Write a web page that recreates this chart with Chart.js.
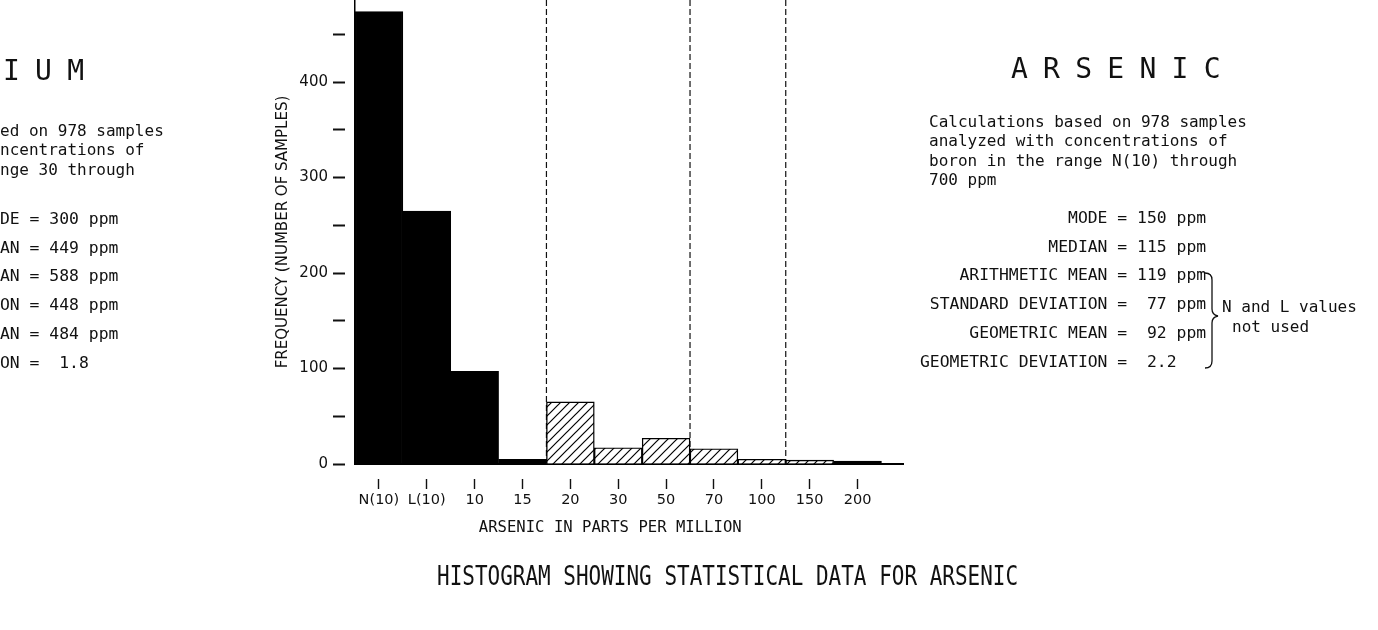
<!DOCTYPE html>
<html>
<head>
<meta charset="utf-8">
<script src="https://cdn.jsdelivr.net/npm/chart.js@4.4.1/dist/chart.umd.min.js"></script>
<style>
  html, body { margin: 0; padding: 0; background: #fff; }
  #wrap { position: relative; width: 1378px; height: 630px; overflow: hidden; background: #fff; }
  #chart { position: absolute; left: 0; top: 0; }
  .t { position: absolute; font-family: "DejaVu Sans Mono", monospace; color: #111; white-space: pre; line-height: 1; }
  .head { font-size: 28px; letter-spacing: -0.8px; }
  .para { font-size: 16px; line-height: 19.3px; }
  .stats { font-size: 16.4px; line-height: 28.7px; }
  .note { font-size: 16px; line-height: 20px; }
  .title { font-size: 26px; transform-origin: 0 50%; transform: scaleX(0.807); }
  svg { position: absolute; left: 0; top: 0; }
</style>
</head>
<body>
<div id="wrap">
  <canvas id="chart" width="1378" height="630"></canvas>

  <!-- neighbouring (cut-off) panel on the left -->
  <div class="t head" style="left:3px; top:57px;">I U M</div>
  <div class="t para" style="left:0px; top:121px;">ed on 978 samples
ncentrations of
nge 30 through</div>
  <div class="t stats" style="left:0px; top:205px;">DE = 300 ppm
AN = 449 ppm
AN = 588 ppm
ON = 448 ppm
AN = 484 ppm
ON =  1.8</div>

  <!-- arsenic panel -->
  <div class="t head" style="left:1011px; top:55px;">A R S E N I C</div>
  <div class="t para" style="left:929px; top:112px;">Calculations based on 978 samples
analyzed with concentrations of
boron in the range N(10) through
700 ppm</div>
  <div class="t stats" style="left:920px; top:204px;">               MODE = 150 ppm
             MEDIAN = 115 ppm
    ARITHMETIC MEAN = 119 ppm
 STANDARD DEVIATION =  77 ppm
     GEOMETRIC MEAN =  92 ppm
GEOMETRIC DEVIATION =  2.2</div>
  <svg width="1378" height="630">
    <path d="M1205,273 Q1212,273 1212,280 L1212,309 Q1212,315 1218,316 Q1212,317 1212,323 L1212,361 Q1212,368 1205,368" fill="none" stroke="#111" stroke-width="1.3"/>
  </svg>
  <div class="t note" style="left:1222px; top:297px;">N and L values</div>
  <div class="t note" style="left:1232px; top:317px;">not used</div>

  <div class="t title" style="left:437px; top:563px;">HISTOGRAM SHOWING STATISTICAL DATA FOR ARSENIC</div>
</div>

<script>
// ---- data ----
const categories = ['N(10)', 'L(10)', '10', '15', '20', '30', '50', '70', '100', '150', '200'];
const frequency  = [474, 265, 97, 5, 65, 17, 27, 16, 5, 4, 3];
const shading    = ['solid', 'solid', 'solid', 'solid', 'hatched', 'hatched', 'hatched', 'hatched', 'hatched', 'hatched', 'solid'];
const yTickValues = [0, 50, 100, 150, 200, 250, 300, 350, 400, 450];
const dividerAfter = ['15', '50', '100'];

function hatchPattern() {
  const s = 9;
  const c = document.createElement('canvas');
  c.width = s; c.height = s;
  const g = c.getContext('2d');
  g.fillStyle = '#fff';
  g.fillRect(0, 0, s, s);
  g.strokeStyle = '#000';
  g.lineWidth = 1.2;
  g.beginPath();
  g.moveTo(0, s); g.lineTo(s, 0);
  g.moveTo(-2, 2); g.lineTo(2, -2);
  g.moveTo(s - 2, s + 2); g.lineTo(s + 2, s - 2);
  g.stroke();
  return document.getElementById('chart').getContext('2d').createPattern(c, 'repeat');
}
const hatch = hatchPattern();

const dividerPlugin = {
  id: 'dividers',
  beforeDatasetsDraw(chart) {
    const { ctx, chartArea, scales } = chart;
    ctx.save();
    ctx.strokeStyle = '#111';
    ctx.lineWidth = 1.2;
    ctx.setLineDash([6, 3]);
    dividerAfter.forEach(label => {
      const idx = categories.indexOf(label);
      const x = scales.x.getPixelForValue(idx + 1);
      ctx.beginPath();
      ctx.moveTo(x, chartArea.top);
      ctx.lineTo(x, chartArea.bottom);
      ctx.stroke();
    });
    ctx.restore();
  }
};

new Chart(document.getElementById('chart'), {
  type: 'bar',
  data: {
    datasets: [{
      data: frequency.map((v, i) => ({ x: i + 0.5, y: v })),
      backgroundColor: shading.map(s => s === 'solid' ? '#000' : hatch),
      borderColor: '#000',
      borderWidth: 1.4,
      barPercentage: 1,
      categoryPercentage: 1
    }]
  },
  options: {
    responsive: false,
    animation: false,
    devicePixelRatio: 1,
    layout: { padding: { left: 255, right: 475, top: 0, bottom: 86 } },
    plugins: { legend: { display: false }, tooltip: { enabled: false } },
    scales: {
      x: {
        type: 'linear',
        min: 0,
        max: 11.45,
        offset: false,
        afterBuildTicks: s => { s.ticks = categories.map((c, i) => ({ value: i + 0.5 })); },
        afterFit: s => { s.height = 80; s.paddingLeft = 0; s.paddingRight = 0; },
        ticks: {
          autoSkip: false,
          maxRotation: 0,
          padding: 3,
          color: '#111',
          font: { family: 'DejaVu Sans', size: 14.5 },
          callback: (v, i) => categories[i]
        },
        grid: {
          offset: false,
          drawOnChartArea: false,
          drawTicks: true,
          tickLength: 25,
          tickColor: '#111',
          tickWidth: 1.4,
          tickBorderDash: [0, 14, 11, 60]
        },
        border: { display: true, color: '#000', width: 2 },
        title: {
          display: true,
          text: 'ARSENIC IN PARTS PER MILLION    ',
          color: '#111',
          font: { family: 'DejaVu Sans Mono', size: 15.6 },
          padding: { top: 4, bottom: 7 }
        }
      },
      y: {
        min: 0,
        max: 486,
        afterBuildTicks: s => { s.ticks = yTickValues.map(v => ({ value: v })); },
        afterFit: s => { s.width = 100; s.paddingTop = 0; s.paddingBottom = 0; },
        ticks: {
          padding: 5,
          color: '#111',
          font: { family: 'DejaVu Sans', size: 15 },
          callback: v => (v % 100 === 0 ? String(v) : '')
        },
        grid: {
          drawOnChartArea: false,
          drawTicks: true,
          tickLength: 22,
          tickColor: '#111',
          tickWidth: 2,
          tickBorderDash: [12, 60]
        },
        border: { display: true, color: '#000', width: 1.5 },
        title: {
          display: true,
          text: 'FREQUENCY (NUMBER OF SAMPLES)',
          color: '#111',
          font: { family: 'DejaVu Sans', size: 15 },
          padding: { top: 19, bottom: 0 }
        }
      }
    }
  },
  plugins: [dividerPlugin]
});
</script>
</body>
</html>
